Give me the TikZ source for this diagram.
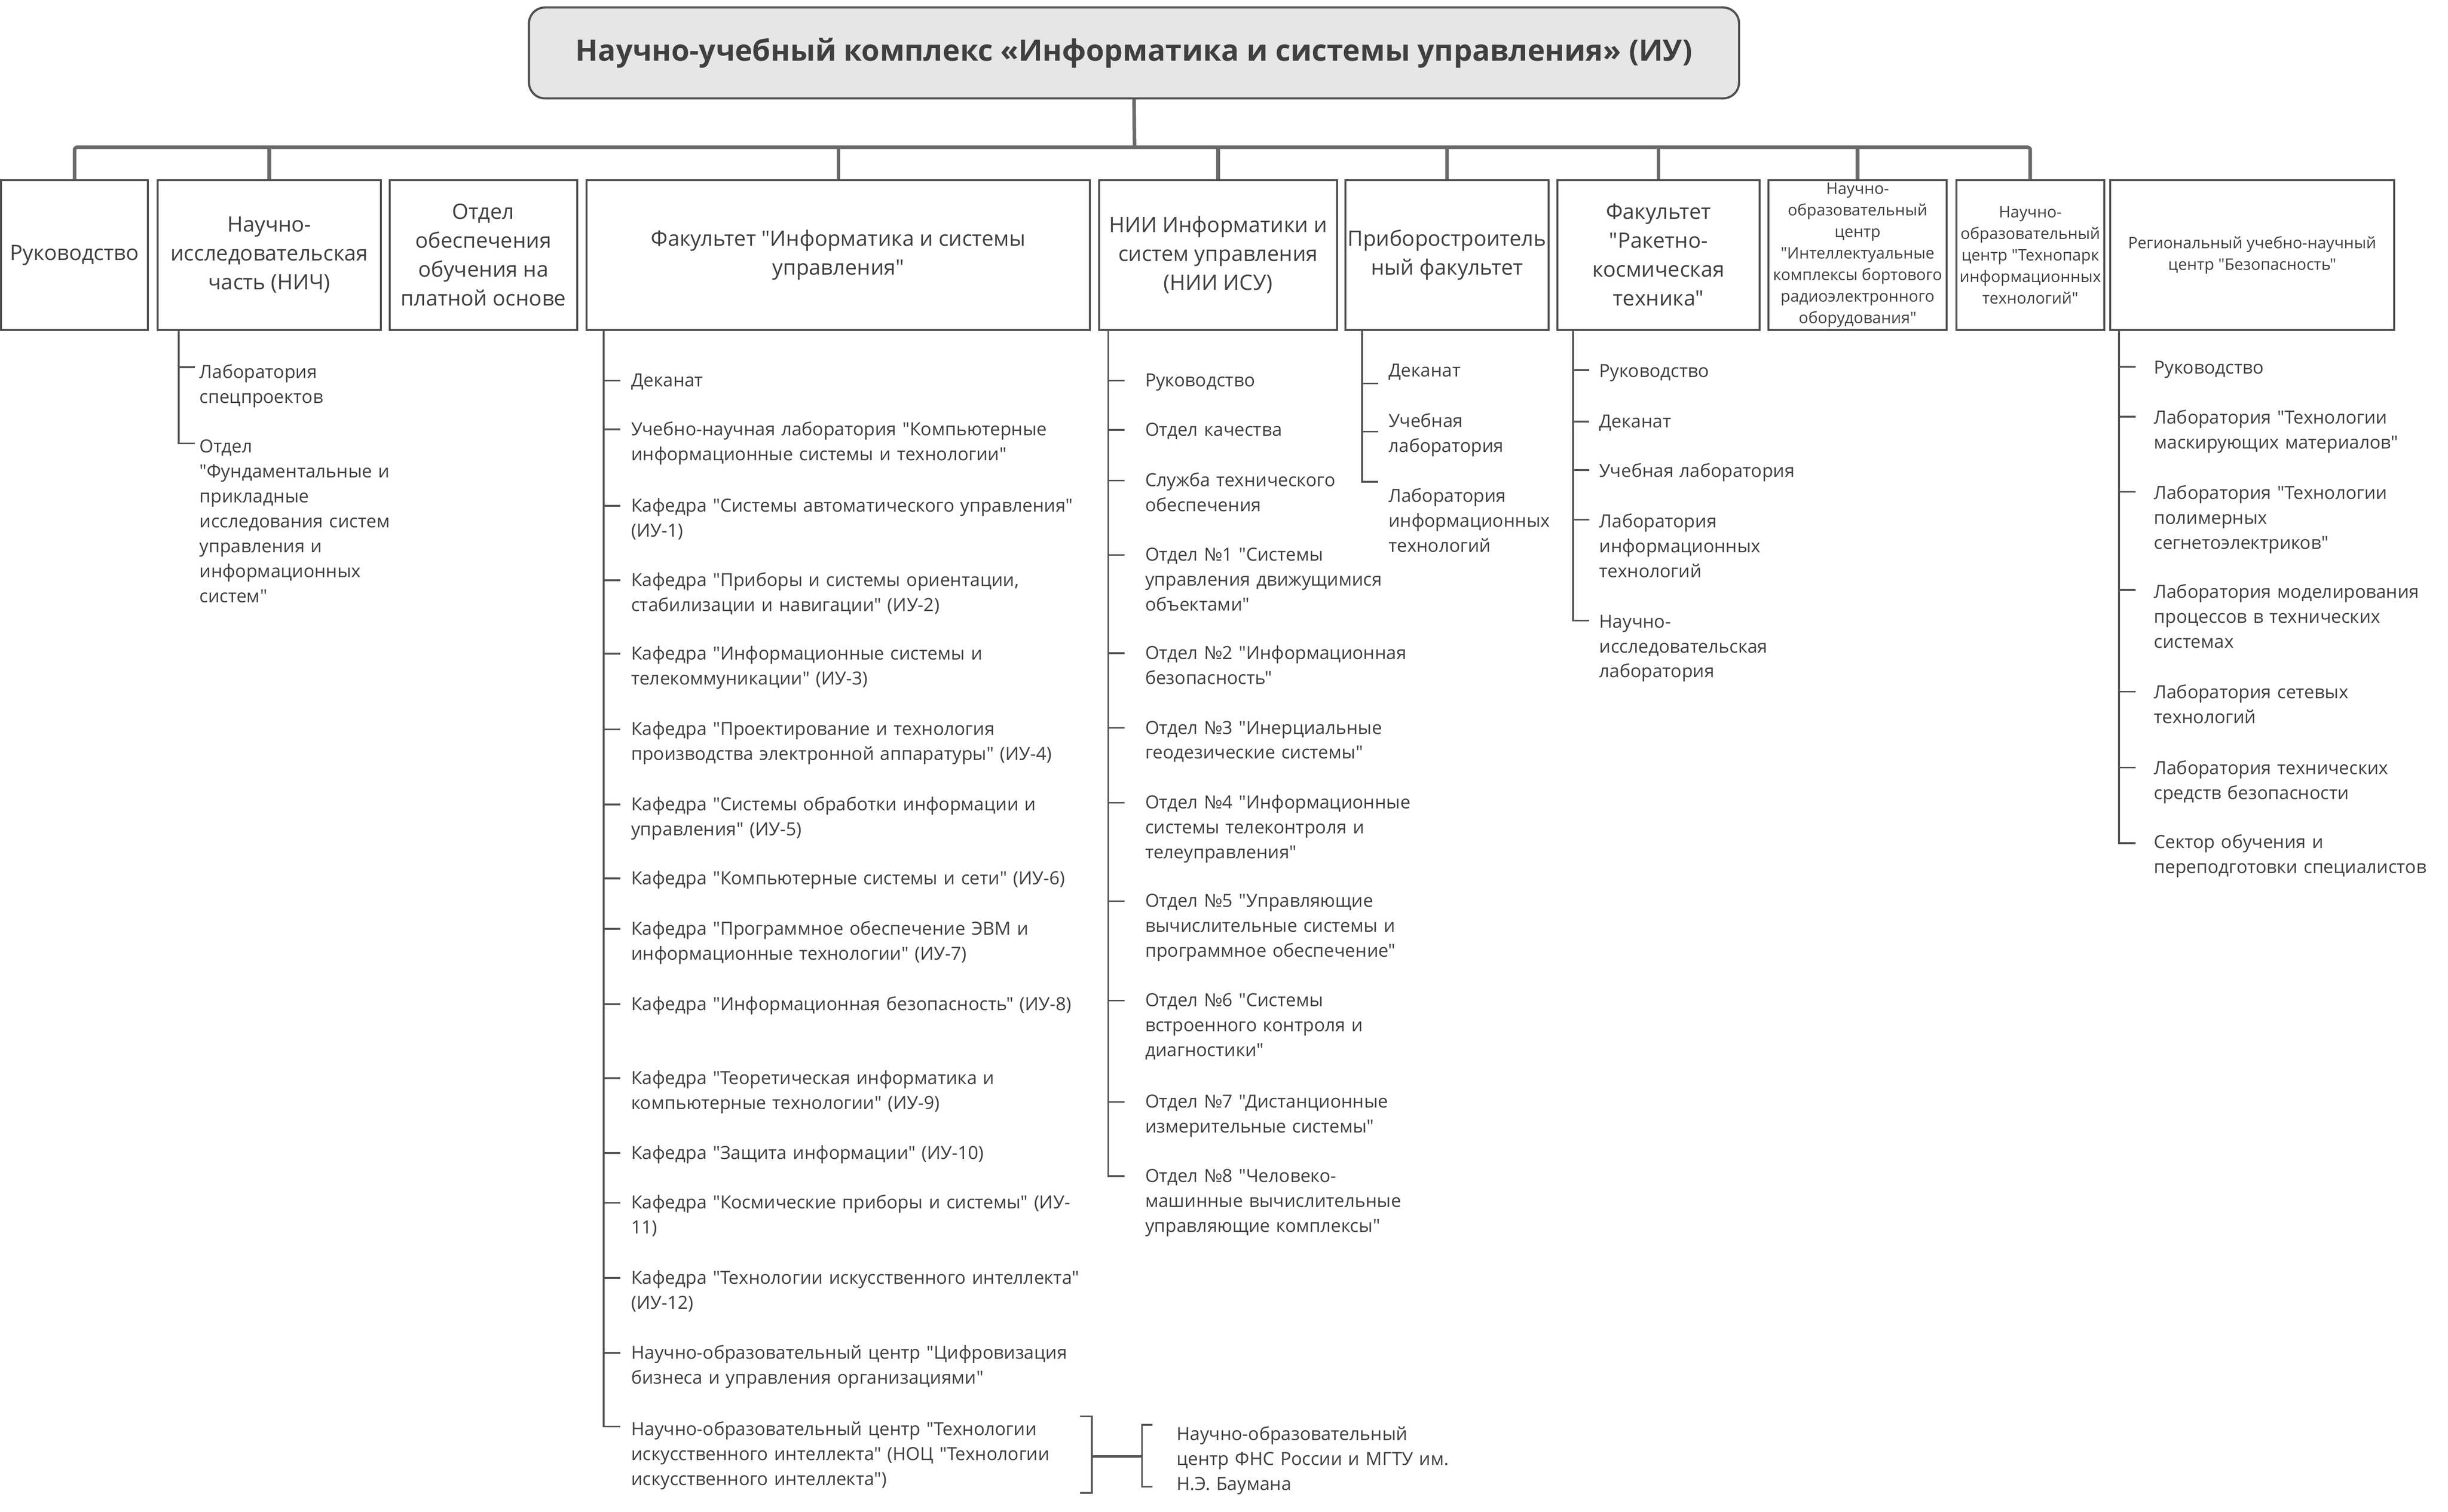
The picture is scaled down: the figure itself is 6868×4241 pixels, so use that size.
\documentclass[tikz,border=0pt]{standalone}
\usepackage{fontspec}
\setmainfont{Open Sans}[Ligatures=TeXOff]
\newlength\pxu \setlength\pxu{0.2pt}
\definecolor{txt}{HTML}{3F3F3F}
\definecolor{bord}{HTML}{505050}
\definecolor{connc}{HTML}{6A6A6A}
\definecolor{lstc}{HTML}{555555}
\definecolor{tfill}{HTML}{E6E6E6}
\tikzset{
  box/.style={draw=bord, line width=1.1pt, fill=white, minimum height=419.5\pxu, align=center, text=txt, inner sep=0pt},
  bigf/.style={font=\fontsize{11.9}{16.2}\selectfont},
  smallf/.style={font=\fontsize{8.9}{12.1}\selectfont},
  conn/.style={draw=connc, line width=2pt},
  lstl/.style={draw=lstc, line width=1pt},
  litem/.style={anchor=north west, inner sep=0pt, text width=1800\pxu, align=left, text=txt, font=\fontsize{10.15}{14}\selectfont},
}
\newcommand\orgli[6]{%
  \node[litem] (#1) at (#4,#5-33) {\strut #6};
  \draw[lstl] (#2,#3) -- (#2+46,#3);}
\begin{document}
\begin{tikzpicture}[x=0.2pt,y=-0.2pt]
\useasboundingbox (0,0) rectangle (6868,4241);
% title
\node[draw=bord, line width=1.2pt, fill=tfill, rounded corners=9pt, minimum width=3395\pxu, minimum height=255\pxu, text=txt, inner sep=0pt, font=\bfseries\fontsize{16.5}{20}\selectfont] (title) at (3181.5,148.5) {Научно-учебный комплекс «Информатика и системы управления» (ИУ)};
% boxes
\node[box,bigf,minimum width=412.5\pxu] (b1) at (209,715.5) {Руководство};
\node[box,bigf,minimum width=625.5\pxu] (b2) at (755.5,715.5) {Научно-\\исследовательская\\часть (НИЧ)};
\node[box,bigf,minimum width=526.5\pxu] (b3) at (1356,715.5) {Отдел\\обеспечения\\обучения на\\платной основе};
\node[box,bigf,minimum width=1412.5\pxu] (b4) at (2352,715.5) {Факультет "Информатика и системы\\управления"};
\node[box,bigf,minimum width=667.5\pxu] (b5) at (3417.5,715.5) {НИИ Информатики и\\систем управления\\(НИИ ИСУ)};
\node[box,bigf,minimum width=569.5\pxu] (b6) at (4059.5,715.5) {Приборостроитель\\ный факультет};
\node[box,bigf,minimum width=566.5\pxu] (b7) at (4653,715.5) {Факультет\\"Ракетно-\\космическая\\техника"};
\node[box,smallf,minimum width=499.5\pxu] (b8) at (5211.5,715.5) {Научно-\\образовательный\\центр\\"Интеллектуальные\\комплексы бортового\\радиоэлектронного\\оборудования"};
\node[box,smallf,minimum width=414.5\pxu] (b9) at (5696,715.5) {Научно-\\образовательный\\центр "Технопарк\\информационных\\технологий"};
\node[box,smallf,minimum width=797.5\pxu] (b10) at (6318.5,715.5) {Региональный учебно-научный\\центр "Безопасность"};
% bus
\coordinate (bus) at (3183,413);
\draw[conn, rounded corners=1.6pt] (b1.north) |- (bus) -| (b9.north);
\draw[conn] (title.south) -- (bus);
\foreach \b in {b2,b4,b5,b6,b7,b8} \draw[conn] (\b.north) -- (\b.north |- bus);
% NICh list
\coordinate (v2) at (501,0);
\draw[lstl] (b2.south -| v2) |- (547,1244);
\orgli{n1}{501}{1030}{559}{1044}{Лаборатория\\спецпроектов}
\orgli{n2}{501}{1244}{559}{1253}{Отдел\\"Фундаментальные и\\прикладные\\исследования систем\\управления и\\информационных\\систем"}
% IU list
\coordinate (v4) at (1694,0);
\draw[lstl] (b4.south -| v4) |- (1740,4002);
\orgli{iu1}{1694}{1068}{1770}{1068}{Деканат}
\orgli{iu2}{1694}{1205}{1770}{1205}{Учебно-научная лаборатория "Компьютерные\\информационные системы и технологии"}
\orgli{iu3}{1694}{1419}{1770}{1419}{Кафедра "Системы автоматического управления"\\(ИУ-1)}
\orgli{iu4}{1694}{1628}{1770}{1628}{Кафедра "Приборы и системы ориентации,\\стабилизации и навигации" (ИУ-2)}
\orgli{iu5}{1694}{1834}{1770}{1834}{Кафедра "Информационные системы и\\телекоммуникации" (ИУ-3)}
\orgli{iu6}{1694}{2046}{1770}{2046}{Кафедра "Проектирование и технология\\производства электронной аппаратуры" (ИУ-4)}
\orgli{iu7}{1694}{2257}{1770}{2257}{Кафедра "Системы обработки информации и\\управления" (ИУ-5)}
\orgli{iu8}{1694}{2464}{1770}{2464}{Кафедра "Компьютерные системы и сети" (ИУ-6)}
\orgli{iu9}{1694}{2606}{1770}{2606}{Кафедра "Программное обеспечение ЭВМ и\\информационные технологии" (ИУ-7)}
\orgli{iu10}{1694}{2817}{1770}{2817}{Кафедра "Информационная безопасность" (ИУ-8)}
\orgli{iu11}{1694}{3025}{1770}{3025}{Кафедра "Теоретическая информатика и\\компьютерные технологии" (ИУ-9)}
\orgli{iu12}{1694}{3235}{1770}{3235}{Кафедра "Защита информации" (ИУ-10)}
\orgli{iu13}{1694}{3374}{1770}{3374}{Кафедра "Космические приборы и системы" (ИУ-\\11)}
\orgli{iu14}{1694}{3585}{1770}{3585}{Кафедра "Технологии искусственного интеллекта"\\(ИУ-12)}
\orgli{iu15}{1694}{3795}{1770}{3795}{Научно-образовательный центр "Цифровизация\\бизнеса и управления организациями"}
\orgli{iu16}{1694}{4002}{1770}{4010}{Научно-образовательный центр "Технологии\\искусственного интеллекта" (НОЦ "Технологии\\искусственного интеллекта")}
% brackets to FNS centre
\node[litem] (fns) at (3300,4024-33) {\strut Научно-образовательный\\центр ФНС России и МГТУ им.\\Н.Э. Баумана};
\coordinate (brm) at (3063,4086);
\draw[lstl] (3030,3973) -- (3063,3973) -- (3063,4188) -- (3030,4188);
\draw[lstl, line width=1.4pt] (brm) -- (3204,4086);
\draw[lstl] (3233,3997) -- (3204,3997) -- (3204,4171) -- (3233,4171);
% NII list
\coordinate (v5) at (3109,0);
\draw[lstl] (b5.south -| v5) |- (3155,3299);
\orgli{ni1}{3109}{1068}{3212}{1068}{Руководство}
\orgli{ni2}{3109}{1206}{3212}{1206}{Отдел качества}
\orgli{ni3}{3109}{1348}{3212}{1348}{Служба технического\\обеспечения}
\orgli{ni4}{3109}{1557}{3212}{1557}{Отдел №1 "Системы\\управления движущимися\\объектами"}
\orgli{ni5}{3109}{1832}{3212}{1832}{Отдел №2 "Информационная\\безопасность"}
\orgli{ni6}{3109}{2042}{3212}{2042}{Отдел №3 "Инерциальные\\геодезические системы"}
\orgli{ni7}{3109}{2252}{3212}{2252}{Отдел №4 "Информационные\\системы телеконтроля и\\телеуправления"}
\orgli{ni8}{3109}{2528}{3212}{2528}{Отдел №5 "Управляющие\\вычислительные системы и\\программное обеспечение"}
\orgli{ni9}{3109}{2807}{3212}{2807}{Отдел №6 "Системы\\встроенного контроля и\\диагностики"}
\orgli{ni10}{3109}{3091}{3212}{3091}{Отдел №7 "Дистанционные\\измерительные системы"}
\orgli{ni11}{3109}{3299}{3212}{3299}{Отдел №8 "Человеко-\\машинные вычислительные\\управляющие комплексы"}
% Priborostr list
\coordinate (v6) at (3821,0);
\draw[lstl] (b6.south -| v6) |- (3867,1352);
\orgli{pf1}{3821}{1076}{3895}{1040}{Деканат}
\orgli{pf2}{3821}{1211}{3895}{1181}{Учебная\\лаборатория}
\orgli{pf3}{3821}{1352}{3895}{1392}{Лаборатория\\информационных\\технологий}
% RKT list
\coordinate (v7) at (4413,0);
\draw[lstl] (b7.south -| v7) |- (4459,1741);
\orgli{rk1}{4413}{1038}{4486}{1041}{Руководство}
\orgli{rk2}{4413}{1183}{4486}{1183}{Деканат}
\orgli{rk3}{4413}{1319}{4486}{1322}{Учебная лаборатория}
\orgli{rk4}{4413}{1458}{4486}{1463}{Лаборатория\\информационных\\технологий}
\orgli{rk5}{4413}{1741}{4486}{1744}{Научно-\\исследовательская\\лаборатория}
% Regional list
\coordinate (v10) at (5945,0);
\draw[lstl] (b10.south -| v10) |- (5991,2365);
\orgli{rg1}{5945}{1029}{6042}{1032}{Руководство}
\orgli{rg2}{5945}{1169}{6042}{1172}{Лаборатория "Технологии\\маскирующих материалов"}
\orgli{rg3}{5945}{1380}{6042}{1383}{Лаборатория "Технологии\\полимерных\\сегнетоэлектриков"}
\orgli{rg4}{5945}{1655}{6042}{1661}{Лаборатория моделирования\\процессов в технических\\системах}
\orgli{rg5}{5945}{1940}{6042}{1943}{Лаборатория сетевых\\технологий}
\orgli{rg6}{5945}{2153}{6042}{2156}{Лаборатория технических\\средств безопасности}
\orgli{rg7}{5945}{2365}{6042}{2363}{Сектор обучения и\\переподготовки специалистов}
\end{tikzpicture}
\end{document}
